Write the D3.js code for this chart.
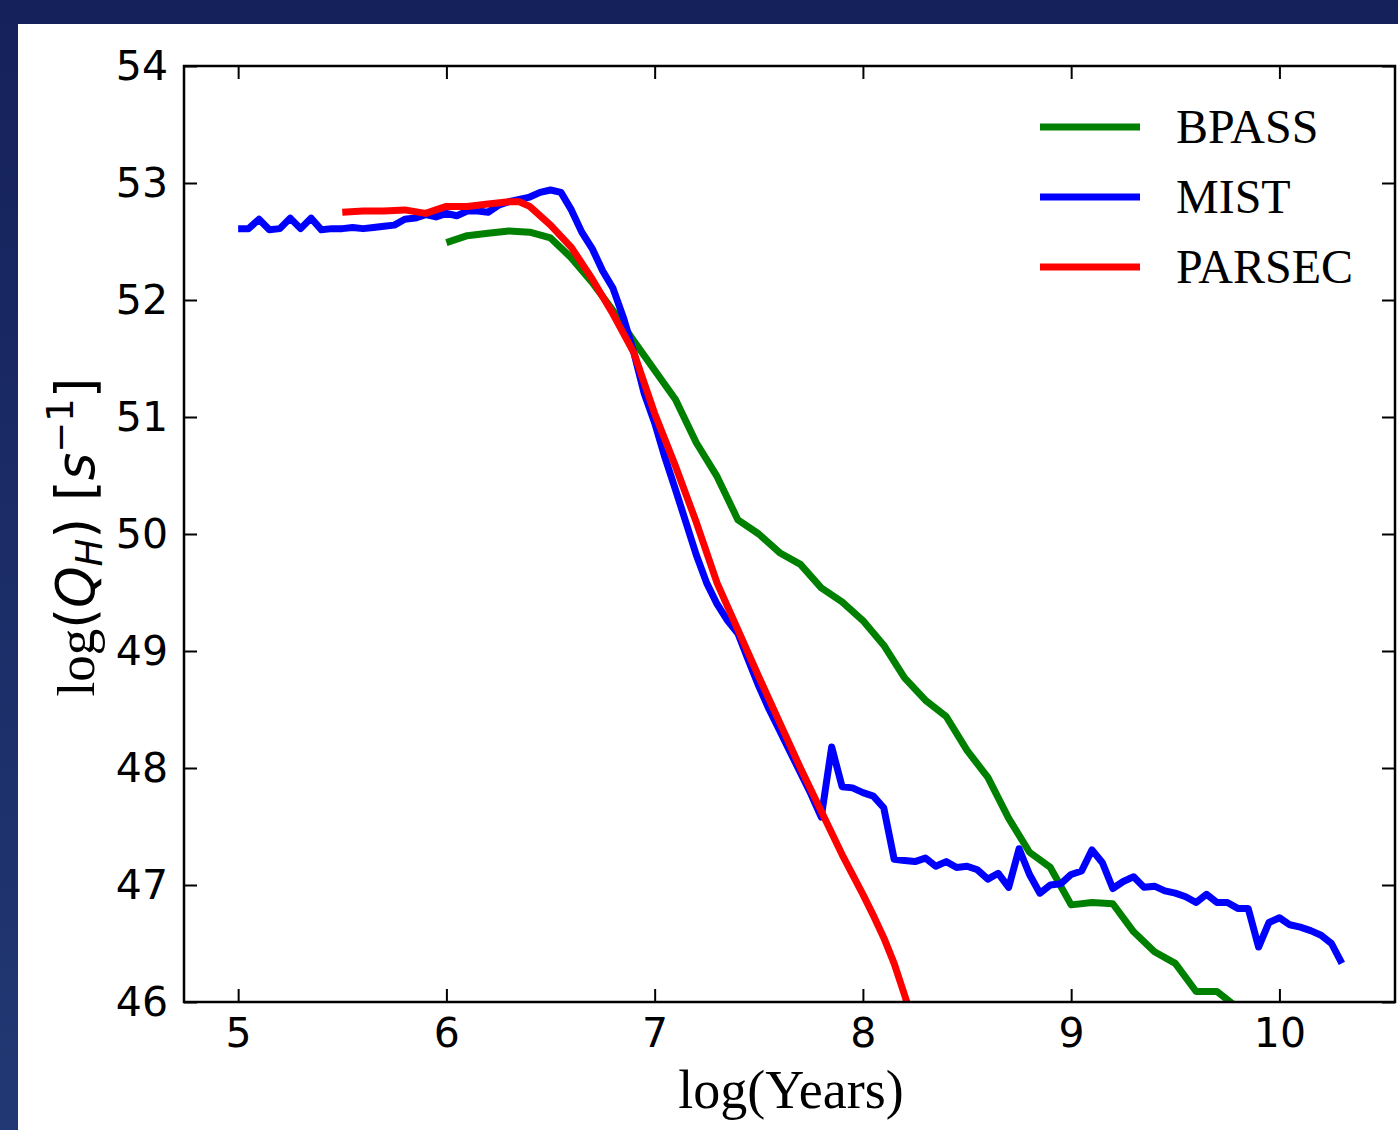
<!DOCTYPE html>
<html>
<head>
<meta charset="utf-8">
<script src="https://cdn.jsdelivr.net/npm/d3@7"></script>
<style>
  body { margin: 0; padding: 0; overflow: hidden; }
  svg { display: block; }
</style>
</head>
<body>
<svg id="chart" width="1398" height="1130"></svg>
<script>
// log(age) grids and log(Q_H) values
var mistAge = [5.00,5.05,5.10,5.15,5.20,5.25,5.30,5.35,5.40,5.45,5.50,5.55,5.60,5.65,5.70,5.75,5.80,5.85,5.90,5.95,
  6.00,6.05,6.10,6.15,6.20,6.25,6.30,6.35,6.40,6.45,6.50,6.55,6.60,6.65,6.70,6.75,6.80,6.85,6.90,6.95,
  7.00,7.05,7.10,7.15,7.20,7.25,7.30,7.35,7.40,7.45,7.50,7.55,7.60,7.65,7.70,7.75,7.80,7.85,7.90,7.95,
  8.00,8.05,8.10,8.15,8.20,8.25,8.30,8.35,8.40,8.45,8.50,8.55,8.60,8.65,8.70,8.75,8.80,8.85,8.90,8.95,
  9.00,9.05,9.10,9.15,9.20,9.25,9.30,9.35,9.40,9.45,9.50,9.55,9.60,9.65,9.70,9.75,9.80,9.85,9.90,9.95,
  10.00,10.05,10.10,10.15,10.20,10.25,10.30];
var mistQ = [52.61,52.61,52.69,52.60,52.61,52.70,52.61,52.70,52.60,52.61,52.61,52.62,52.61,52.62,52.63,52.64,52.69,52.70,52.73,52.71,
  52.74,52.72,52.76,52.76,52.75,52.81,52.84,52.86,52.88,52.92,52.94,52.92,52.77,52.58,52.44,52.25,52.10,51.85,51.55,51.20,
  50.95,50.65,50.38,50.10,49.82,49.58,49.40,49.26,49.15,48.92,48.70,48.50,48.32,48.14,47.96,47.78,47.58,48.18,47.84,47.83,
  47.79,47.76,47.66,47.22,47.21,47.20,47.23,47.16,47.20,47.15,47.16,47.13,47.05,47.10,46.98,47.31,47.09,46.93,47.00,47.01,
  47.09,47.12,47.30,47.19,46.97,47.03,47.07,46.98,46.99,46.95,46.93,46.90,46.85,46.92,46.85,46.85,46.80,46.80,46.47,46.68,
  46.72,46.66,46.64,46.61,46.57,46.50,46.33];

var bpassAge = [6.0,6.1,6.2,6.3,6.4,6.5,6.6,6.7,6.8,6.9,7.0,7.1,7.2,7.3,7.4,7.5,7.6,7.7,7.8,7.9,
  8.0,8.1,8.2,8.3,8.4,8.5,8.6,8.7,8.8,8.9,9.0,9.1,9.2,9.3,9.4,9.5,9.6,9.7,9.8];
var bpassQ = [52.49,52.55,52.57,52.59,52.58,52.53,52.36,52.15,51.91,51.65,51.40,51.15,50.78,50.49,50.12,50.00,49.84,49.74,49.54,49.42,
  49.26,49.05,48.77,48.58,48.44,48.15,47.92,47.57,47.28,47.15,46.83,46.85,46.84,46.60,46.43,46.33,46.09,46.09,45.95];

var parsecAge = [5.5,5.6,5.7,5.8,5.9,6.0,6.1,6.2,6.3,6.35,6.4,6.5,6.6,6.7,6.8,6.9,7.0,7.1,7.2,7.3,7.4,7.5,7.6,7.7,7.8,7.9,8.0,8.05,8.1,8.15,8.2,8.3];
var parsecQ = [52.75,52.76,52.76,52.77,52.74,52.80,52.80,52.82,52.84,52.84,52.80,52.64,52.45,52.18,51.88,51.55,51.03,50.58,50.10,49.58,
  49.18,48.78,48.39,48.00,47.63,47.26,46.92,46.74,46.55,46.33,46.06,45.50];

var seriesNames = ['BPASS', 'MIST', 'PARSEC'];
var seriesColors = ['green', 'blue', 'red'];
var xTicks = [5, 6, 7, 8, 9, 10];
var yTicks = [46, 47, 48, 49, 50, 51, 52, 53, 54];

var svg = d3.select('#chart');
var W = +svg.attr('width'), H = +svg.attr('height');

// navy slide frame
var defs = svg.append('defs');
var grad = defs.append('linearGradient').attr('id', 'navy').attr('x1', 0).attr('y1', 0).attr('x2', 0).attr('y2', 1);
grad.append('stop').attr('offset', '0%').attr('stop-color', '#15215a');
grad.append('stop').attr('offset', '100%').attr('stop-color', '#213874');
svg.append('rect').attr('width', W).attr('height', H).attr('fill', 'url(#navy)');
svg.append('rect').attr('x', 18).attr('y', 24).attr('width', W - 18).attr('height', H - 24).attr('fill', 'white');

var pLeft = 184, pRight = 1395, pTop = 66, pBottom = 1002;
var x = d3.scaleLinear().domain([4.74, 10.555]).range([pLeft, pRight]);
var y = d3.scaleLinear().domain([46, 54]).range([pBottom, pTop]);

defs.append('clipPath').attr('id', 'plotclip')
  .append('rect').attr('x', pLeft).attr('y', pTop).attr('width', pRight - pLeft).attr('height', pBottom - pTop);

var line = d3.line().x(function(d) { return x(d[0]); }).y(function(d) { return y(d[1]); });

function zipSeries(ages, vals) {
  return ages.map(function(a, i) { return [a, vals[i]]; });
}

var series = [zipSeries(bpassAge, bpassQ), zipSeries(mistAge, mistQ), zipSeries(parsecAge, parsecQ)];

var plot = svg.append('g').attr('clip-path', 'url(#plotclip)');
series.forEach(function(s, i) {
  plot.append('path')
    .datum(s)
    .attr('d', line)
    .attr('fill', 'none')
    .attr('stroke', seriesColors[i])
    .attr('stroke-width', 7)
    .attr('stroke-linejoin', 'round')
    .attr('stroke-linecap', 'butt');
});

// axes, ticks pointing inward on all four sides
var tickLen = 13;
var fontTick = 'DejaVu Sans, sans-serif';
var bottomAxis = d3.axisBottom(x).tickValues(xTicks).tickSize(-tickLen).tickPadding(16).tickFormat(d3.format('d'));
var topAxis = d3.axisTop(x).tickValues(xTicks).tickSize(-tickLen).tickFormat('');
var leftAxis = d3.axisLeft(y).tickValues(yTicks).tickSize(-tickLen).tickPadding(16).tickFormat(d3.format('d'));
var rightAxis = d3.axisRight(y).tickValues(yTicks).tickSize(-tickLen).tickFormat('');

function styleAxis(g) {
  g.select('.domain').remove();
  g.selectAll('.tick line').attr('stroke', 'black').attr('stroke-width', 2);
  g.selectAll('.tick text').attr('fill', 'black').style('font-family', fontTick).style('font-size', '41px');
}

svg.append('g').attr('transform', 'translate(0,' + pBottom + ')').call(bottomAxis).call(styleAxis);
svg.append('g').attr('transform', 'translate(0,' + pTop + ')').call(topAxis).call(styleAxis);
svg.append('g').attr('transform', 'translate(' + pLeft + ',0)').call(leftAxis).call(styleAxis);
svg.append('g').attr('transform', 'translate(' + pRight + ',0)').call(rightAxis).call(styleAxis);

svg.append('rect')
  .attr('x', pLeft).attr('y', pTop).attr('width', pRight - pLeft).attr('height', pBottom - pTop)
  .attr('fill', 'none').attr('stroke', 'black').attr('stroke-width', 2.5);

// axis labels
svg.append('text')
  .attr('x', 791).attr('y', 1108)
  .attr('text-anchor', 'middle')
  .style('font-family', 'Liberation Serif, Times New Roman, serif')
  .style('font-size', '54px')
  .text('log(Years)');

var ylab = svg.append('text')
  .attr('transform', 'translate(94,537) rotate(-90)')
  .attr('text-anchor', 'middle')
  .style('font-size', '53px');
ylab.append('tspan').style('font-family', 'Liberation Serif, serif').text('log');
ylab.append('tspan').style('font-family', 'DejaVu Sans, sans-serif').text('(');
ylab.append('tspan').style('font-family', 'DejaVu Sans, sans-serif').style('font-style', 'oblique').text('Q');
ylab.append('tspan').style('font-family', 'DejaVu Sans, sans-serif').style('font-style', 'oblique').style('font-size', '37px').attr('dy', 8).text('H');
ylab.append('tspan').style('font-family', 'DejaVu Sans, sans-serif').attr('dy', -8).text(') [');
ylab.append('tspan').style('font-family', 'DejaVu Sans, sans-serif').style('font-style', 'oblique').text('s');
ylab.append('tspan').style('font-family', 'DejaVu Sans, sans-serif').style('font-size', '37px').attr('dy', -21).text('\u22121');
ylab.append('tspan').style('font-family', 'DejaVu Sans, sans-serif').attr('dy', 21).text(']');

// legend
var legend = svg.append('g');
seriesNames.forEach(function(name, i) {
  var ly = 127 + i * 70;
  legend.append('line')
    .attr('x1', 1040).attr('x2', 1140).attr('y1', ly).attr('y2', ly)
    .attr('stroke', seriesColors[i]).attr('stroke-width', 7);
  legend.append('text')
    .attr('x', 1176).attr('y', ly + 16)
    .style('font-family', 'Liberation Serif, Times New Roman, serif')
    .style('font-size', '48px')
    .text(name);
});
</script>
</body>
</html>
